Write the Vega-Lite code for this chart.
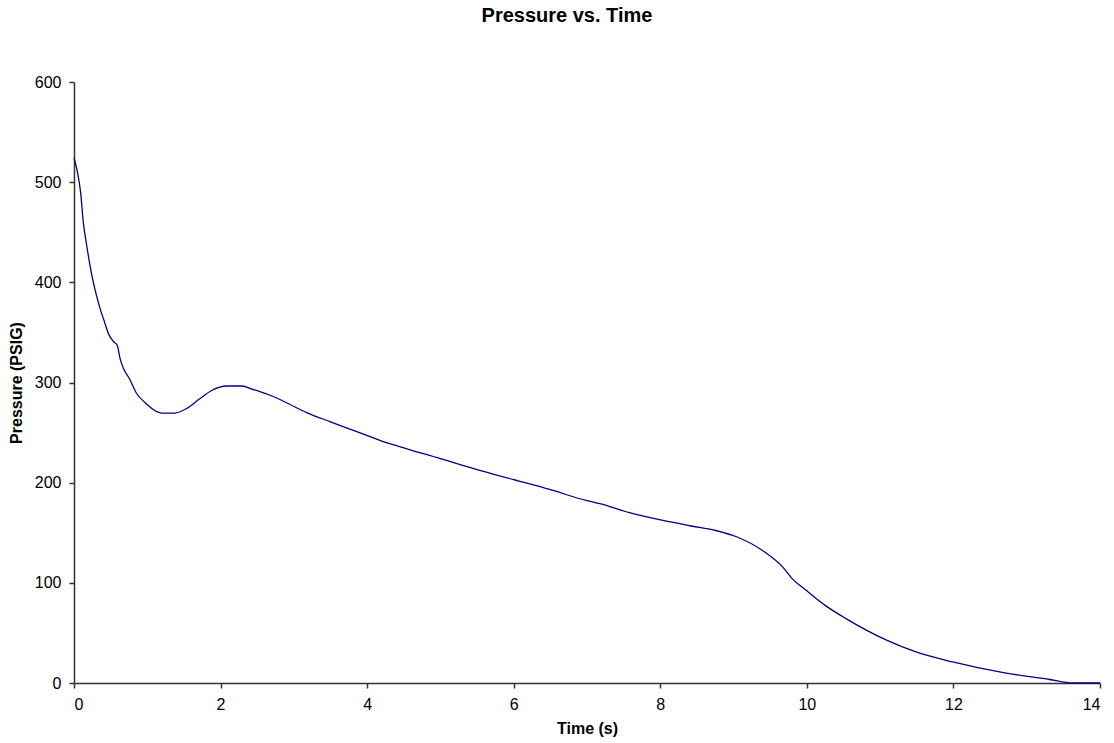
{
  "$schema": "https://vega.github.io/schema/vega-lite/v6.json",
  "width": 1026,
  "height": 601,
  "autosize": {"type": "none"},
  "padding": {"left": 74, "top": 82, "right": 14, "bottom": 60},
  "background": "white",
  "config": {
    "font": "Liberation Sans",
    "view": {"stroke": null},
    "axis": {
      "grid": false,
      "domainColor": "#333333",
      "tickColor": "#333333",
      "labelColor": "#000000",
      "titleColor": "#000000",
      "labelFontSize": 16,
      "titleFontSize": 16,
      "titleFontWeight": "bold",
      "labelFont": "Liberation Sans",
      "titleFont": "Liberation Sans",
      "tickSize": 5,
      "domainWidth": 1.5,
      "tickWidth": 1.5
    }
  },
  "title": {
    "text": "Pressure vs. Time",
    "fontSize": 20,
    "fontWeight": "bold",
    "font": "Liberation Sans",
    "color": "#000000",
    "anchor": "middle",
    "dx": -20,
    "offset": 48
  },
  "data": {
    "values": [
      {"t": 0, "p": 524},
      {"t": 0.045, "p": 511},
      {"t": 0.09, "p": 490},
      {"t": 0.127, "p": 460},
      {"t": 0.173, "p": 437},
      {"t": 0.218, "p": 417},
      {"t": 0.264, "p": 400},
      {"t": 0.31, "p": 386},
      {"t": 0.355, "p": 374},
      {"t": 0.414, "p": 361},
      {"t": 0.469, "p": 349},
      {"t": 0.537, "p": 341},
      {"t": 0.591, "p": 337},
      {"t": 0.628, "p": 324},
      {"t": 0.682, "p": 313},
      {"t": 0.755, "p": 304},
      {"t": 0.855, "p": 289},
      {"t": 0.968, "p": 280},
      {"t": 1.128, "p": 271},
      {"t": 1.196, "p": 269.5},
      {"t": 1.378, "p": 269.5},
      {"t": 1.537, "p": 274},
      {"t": 1.72, "p": 284},
      {"t": 1.878, "p": 292},
      {"t": 2.083, "p": 296.5},
      {"t": 2.287, "p": 296.5},
      {"t": 2.446, "p": 293},
      {"t": 2.537, "p": 291},
      {"t": 2.72, "p": 286},
      {"t": 2.947, "p": 278},
      {"t": 3.174, "p": 270},
      {"t": 3.49, "p": 261},
      {"t": 3.765, "p": 253.5},
      {"t": 4.04, "p": 246},
      {"t": 4.22, "p": 241},
      {"t": 4.44, "p": 236},
      {"t": 5.0, "p": 224},
      {"t": 5.5, "p": 213},
      {"t": 6.0, "p": 203},
      {"t": 6.5, "p": 193},
      {"t": 7.0, "p": 182},
      {"t": 7.176, "p": 179},
      {"t": 7.58, "p": 170},
      {"t": 7.99, "p": 163},
      {"t": 8.4, "p": 157},
      {"t": 8.77, "p": 152},
      {"t": 9.04, "p": 146},
      {"t": 9.4, "p": 132},
      {"t": 9.68, "p": 115},
      {"t": 9.79, "p": 105},
      {"t": 10.0, "p": 92},
      {"t": 10.26, "p": 77},
      {"t": 10.54, "p": 64},
      {"t": 11.08, "p": 43},
      {"t": 11.49, "p": 31},
      {"t": 11.99, "p": 21},
      {"t": 12.63, "p": 11},
      {"t": 13.31, "p": 3.5},
      {"t": 13.63, "p": 0},
      {"t": 14.0, "p": 0}
    ]
  },
  "mark": {"type": "line", "color": "#000080", "strokeWidth": 1.3, "interpolate": "monotone"},
  "encoding": {
    "x": {
      "field": "t",
      "type": "quantitative",
      "title": "Time (s)",
      "scale": {"domain": [0, 14], "nice": false, "zero": false},
      "axis": {"values": [0, 2, 4, 6, 8, 10, 12, 14], "labelPadding": 8, "titlePadding": 8}
    },
    "y": {
      "field": "p",
      "type": "quantitative",
      "title": "Pressure (PSIG)",
      "scale": {"domain": [0, 600], "nice": false},
      "axis": {"values": [0, 100, 200, 300, 400, 500, 600], "labelPadding": 8, "titlePadding": 10}
    }
  }
}
